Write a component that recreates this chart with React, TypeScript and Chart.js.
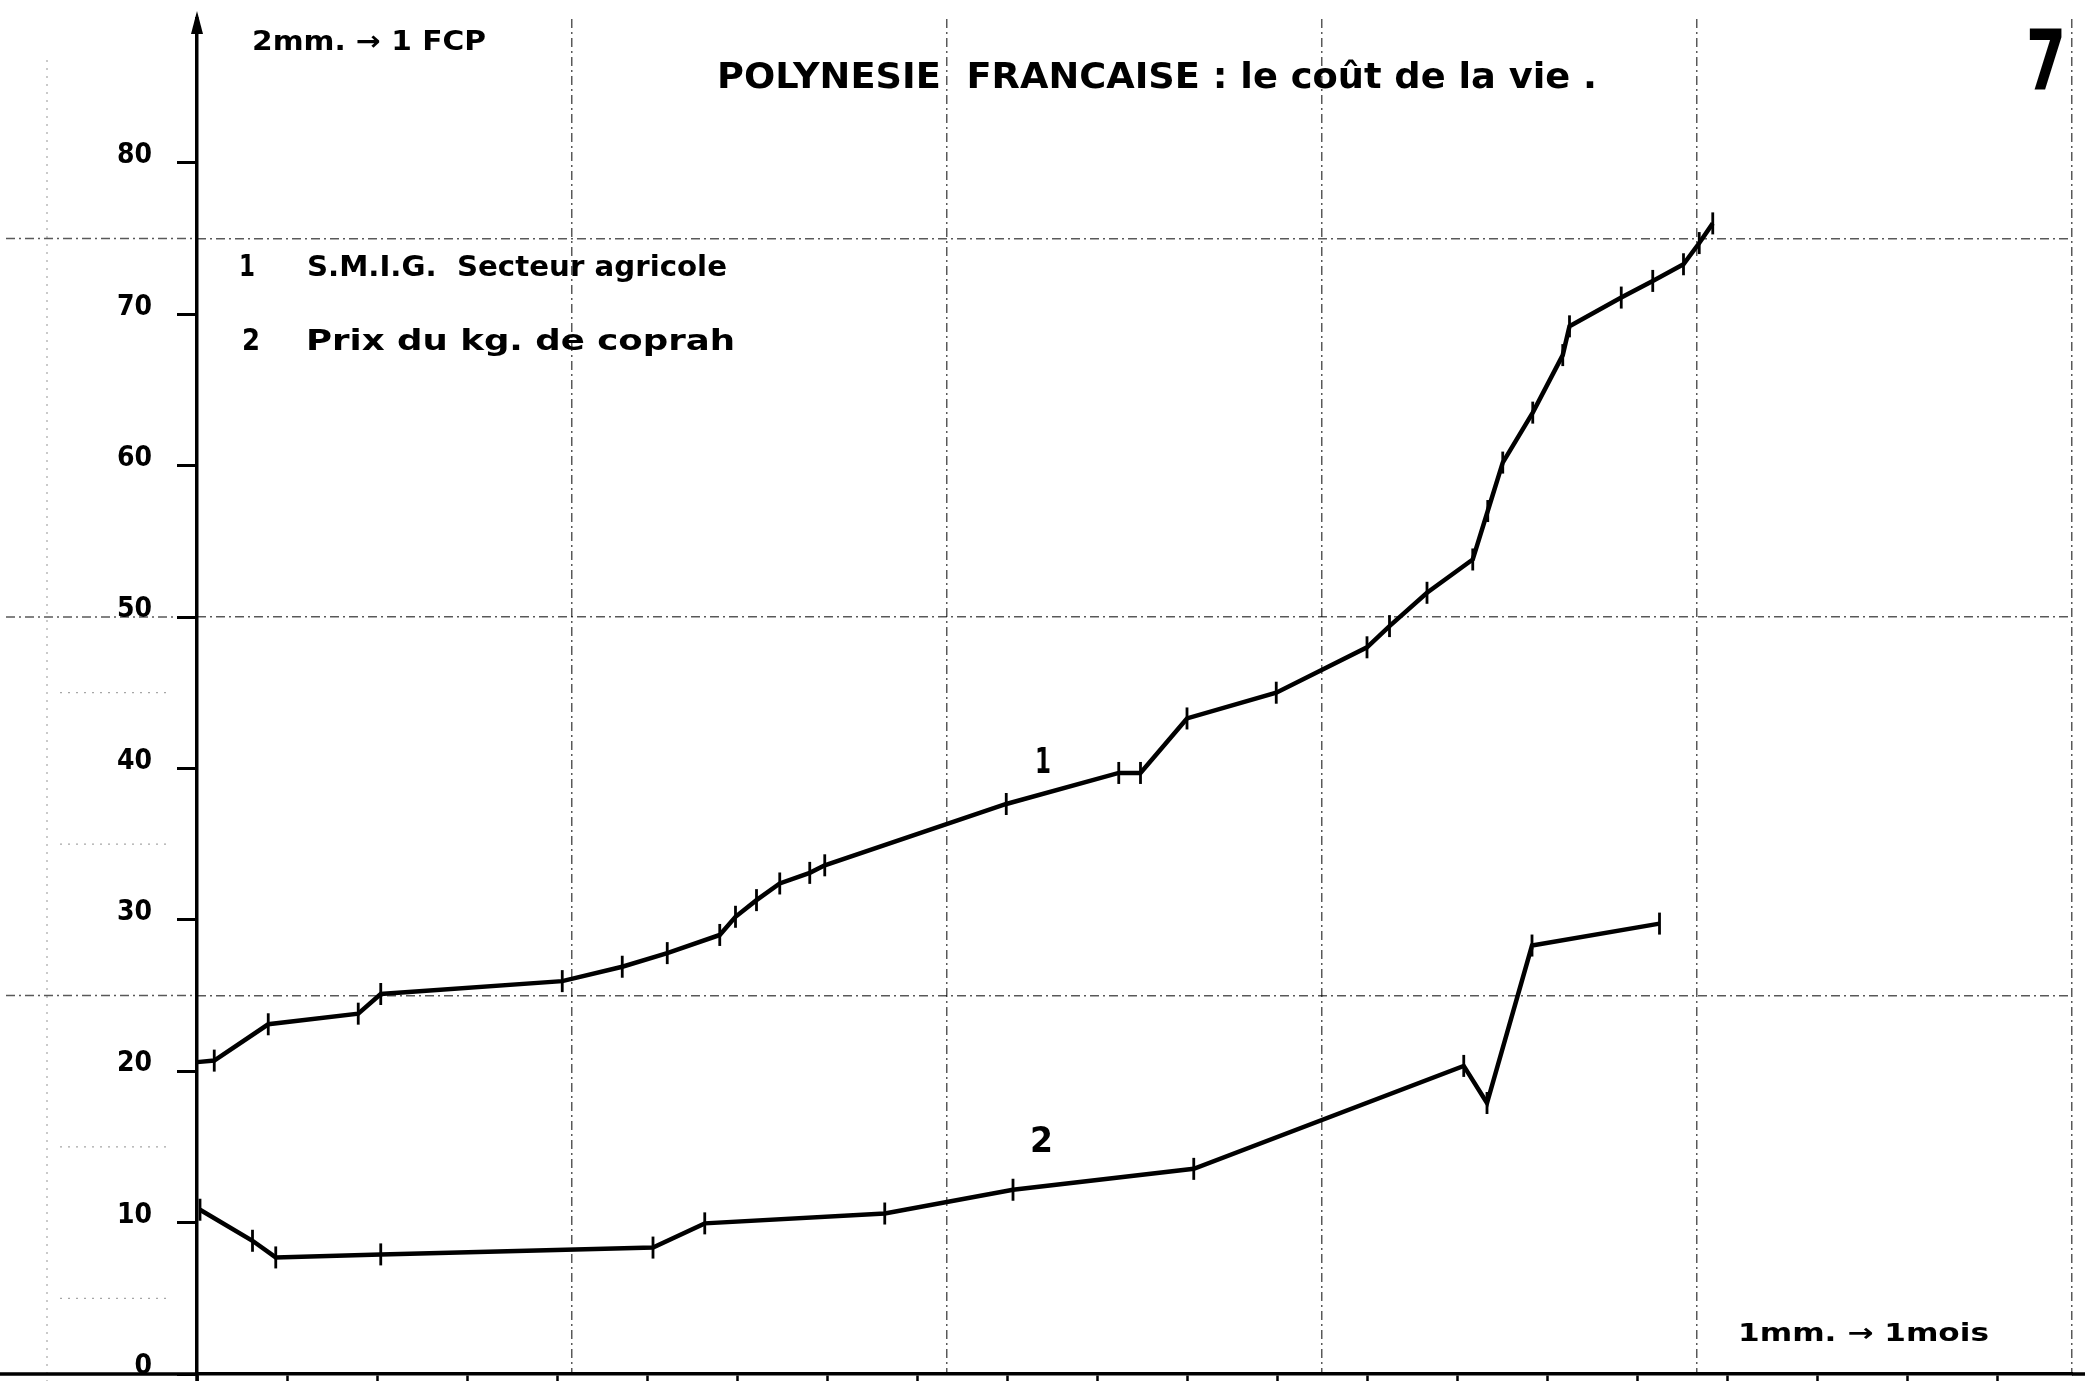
import React, { useEffect, useRef } from "react";
import { Chart, registerables } from "chart.js";

Chart.register(...registerables);

// x values are months from the origin (1 mm -> 1 mois), y values in FCP (2 mm -> 1 FCP)
const smigMonths = [0, 2.3, 9.5, 21.5, 24.5, 48.7, 56.7, 62.7, 69.7, 71.8, 74.6, 77.7, 81.7, 83.7, 107.9, 122.9, 125.8, 132.0, 143.9, 156.0, 159.0, 164.0, 170.1, 172.1, 174.1, 178.1, 182.1, 183.0, 189.9, 194.1, 198.2, 200.3, 202.1];
const smigValues = [20.6, 20.7, 23.1, 23.8, 25.1, 25.95, 26.9, 27.8, 29.0, 30.2, 31.3, 32.4, 33.1, 33.6, 37.65, 39.7, 39.7, 43.3, 45.0, 48.0, 49.4, 51.6, 53.8, 57.0, 60.2, 63.5, 67.3, 69.2, 71.1, 72.2, 73.3, 74.7, 76.0];

const coprahMonths = [0.4, 7.4, 10.5, 24.5, 60.8, 67.7, 91.7, 108.8, 132.9, 168.9, 172.0, 178.0, 195.0];
const coprahValues = [10.85, 8.8, 7.7, 7.9, 8.35, 9.95, 10.6, 12.17, 13.55, 20.35, 17.9, 28.3, 29.75];

const yTickStep = 10;
const xTickStep = 12; // one tick per year
const gridStep = 50; // graph paper: every 5 cm
const yGridStep = 25;
const yGridValues = [25, 50, 75];
const faintPaperValues = [5, 15, 35, 45];

const titleText = "POLYNESIE  FRANCAISE : le coût de la vie .";
const yScaleNote = "2mm. → 1 FCP";
const xScaleNote = "1mm. → 1mois";
const plateNumber = "7";
const legendItems = [
  { num: "1", label: "S.M.I.G.  Secteur agricole" },
  { num: "2", label: "Prix du kg. de coprah" },
];
const seriesLabels = ["1", "2"];

const FONT = "'DejaVu Sans', 'Liberation Sans', sans-serif";
const TICK_FONT = "'DejaVu Sans Condensed', 'DejaVu Sans', sans-serif";

function drawFit(ctx: CanvasRenderingContext2D, text: string, x: number, baseline: number, width: number, size: number) {
  ctx.save();
  ctx.font = `bold ${size}px ${FONT}`;
  ctx.textBaseline = "alphabetic";
  ctx.textAlign = "left";
  ctx.fillStyle = "#000";
  const w = ctx.measureText(text).width;
  ctx.translate(x, baseline);
  ctx.scale(width / w, 1);
  ctx.fillText(text, 0, 0);
  ctx.restore();
}

const noPad = (s: any) => {
  s.paddingTop = 0;
  s.paddingBottom = 0;
  s.paddingLeft = 0;
  s.paddingRight = 0;
};

const extrasPlugin = {
  id: "extras",
  beforeDatasetsDraw(chart: any) {
    const ctx: CanvasRenderingContext2D = chart.ctx;
    const yS = chart.scales.y;
    const left = chart.chartArea.left;
    ctx.save();
    // faint graph-paper remnants in the left margin
    ctx.lineWidth = 1.2;
    ctx.strokeStyle = "rgba(0,0,0,0.35)";
    ctx.setLineDash([2, 6]);
    faintPaperValues.forEach((v) => {
      const py = yS.getPixelForValue(v);
      ctx.beginPath();
      ctx.moveTo(60, py);
      ctx.lineTo(left - 25, py);
      ctx.stroke();
    });
    ctx.beginPath();
    ctx.moveTo(47, 60);
    ctx.lineTo(47, chart.height);
    ctx.stroke();
    ctx.restore();
  },
  afterDraw(chart: any) {
    const ctx: CanvasRenderingContext2D = chart.ctx;
    const { chartArea } = chart;
    const yS = chart.scales.y;
    const left = chartArea.left;
    const bottom = chartArea.bottom;
    ctx.save();
    ctx.strokeStyle = "#000";
    ctx.fillStyle = "#000";
    // y axis continuation & arrow
    ctx.lineWidth = 3.5;
    ctx.beginPath();
    ctx.moveTo(left, chartArea.top);
    ctx.lineTo(left, 26);
    ctx.moveTo(left, bottom);
    ctx.lineTo(left, chart.height);
    ctx.stroke();
    ctx.beginPath();
    ctx.moveTo(left, 11);
    ctx.lineTo(left - 6, 34);
    ctx.lineTo(left + 6, 34);
    ctx.closePath();
    ctx.fill();
    // x axis continuation to both edges
    ctx.beginPath();
    ctx.moveTo(0, bottom);
    ctx.lineTo(left, bottom);
    ctx.moveTo(chartArea.right, bottom);
    ctx.lineTo(chart.width, bottom);
    ctx.stroke();
    // graph paper lines extending into the left margin
    ctx.lineWidth = 1.5;
    ctx.strokeStyle = "rgba(0,0,0,0.65)";
    ctx.setLineDash([9, 4, 2, 4]);
    yGridValues.forEach((v) => {
      const py = yS.getPixelForValue(v);
      ctx.beginPath();
      ctx.moveTo(6, py);
      ctx.lineTo(left, py);
      ctx.stroke();
    });
    ctx.setLineDash([]);
    ctx.restore();

    // texts
    drawFit(ctx, yScaleNote, 252, 50, 234, 27);
    drawFit(ctx, titleText, 717, 88, 880, 36);
    drawFit(ctx, plateNumber, 2026, 90, 40, 84);
    drawFit(ctx, legendItems[0].num, 239, 276, 16, 30);
    drawFit(ctx, legendItems[0].label, 307, 276, 420, 29);
    drawFit(ctx, legendItems[1].num, 242, 350, 18, 30);
    drawFit(ctx, legendItems[1].label, 306, 350, 429, 29);
    drawFit(ctx, seriesLabels[0], 1035, 773, 16, 36);
    drawFit(ctx, seriesLabels[1], 1030, 1152, 23, 36);
    drawFit(ctx, xScaleNote, 1738, 1341, 251, 25);
  },
};

export default function App() {
  const ref = useRef<HTMLCanvasElement>(null);
  useEffect(() => {
    const canvas = ref.current;
    if (!canvas) return;
    const lineDs = (months: number[], values: number[], hideFirst: boolean) => ({
      data: months.map((m, i) => ({ x: m, y: values[i] })),
      borderColor: "#000",
      borderWidth: 4.5,
      pointStyle: "line" as const,
      rotation: 90,
      pointRadius: (c: any) => (hideFirst && c.dataIndex === 0 ? 0 : 11),
      pointBorderWidth: 2.8,
      pointBorderColor: "#000",
      pointBackgroundColor: "#000",
      tension: 0,
      fill: false,
      clip: false as const,
      xAxisID: "x",
      yAxisID: "y",
    });
    const gridColor = (c: any) => (c.tick && c.tick.value === 0 ? "rgba(0,0,0,0)" : "rgba(0,0,0,0.65)");
    const chart = new Chart(canvas, {
      type: "line",
      data: {
        datasets: [
          lineDs(smigMonths, smigValues, true),
          lineDs(coprahMonths, coprahValues, false),
        ],
      },
      plugins: [extrasPlugin],
      options: {
        animation: false,
        responsive: true,
        maintainAspectRatio: false,
        layout: { autoPadding: false, padding: { top: 19, right: 13, bottom: 0, left: 0 } },
        plugins: { legend: { display: false }, tooltip: { enabled: false }, title: { display: false } },
        scales: {
          xg: {
            type: "linear",
            min: 0,
            max: 250,
            position: "bottom",
            afterFit: (s: any) => { s.height = 0; noPad(s); },
            border: { display: false, dash: [9, 4, 2, 4] },
            grid: { drawOnChartArea: true, drawTicks: false, color: gridColor, lineWidth: 1.5 },
            ticks: { display: false, stepSize: gridStep, includeBounds: false, autoSkip: false },
          },
          yg: {
            type: "linear",
            min: 0,
            max: 89.5,
            position: "left",
            afterFit: (s: any) => { s.width = 0; noPad(s); },
            border: { display: false, dash: [9, 4, 2, 4] },
            grid: { drawOnChartArea: true, drawTicks: false, color: gridColor, lineWidth: 1.5 },
            ticks: { display: false, stepSize: yGridStep, includeBounds: false, autoSkip: false },
          },
          x: {
            type: "linear",
            min: 0,
            max: 250,
            position: "bottom",
            afterFit: (s: any) => { s.height = 7; noPad(s); },
            border: { display: true, color: "#000", width: 3.5 },
            grid: { drawOnChartArea: false, drawTicks: true, tickLength: 8, tickColor: "#000", tickWidth: 2.5, color: "#000" },
            ticks: { stepSize: xTickStep, includeBounds: false, autoSkip: false, callback: () => "" },
          },
          y: {
            type: "linear",
            min: 0,
            max: 89.5,
            position: "left",
            afterFit: (s: any) => { s.width = 197; noPad(s); },
            border: { display: true, color: "#000", width: 3.5 },
            grid: { drawOnChartArea: false, drawTicks: true, tickLength: 20, tickColor: "#000", tickWidth: 3, color: "#000" },
            ticks: {
              stepSize: yTickStep,
              includeBounds: false,
              autoSkip: false,
              color: "#000",
              padding: 25,
              labelOffset: -7,
              font: { family: TICK_FONT, weight: "bold", size: 28 },
            },
          },
        },
      },
    } as any);
    return () => chart.destroy();
  }, []);
  return (
    <div style={{ position: "fixed", left: 0, top: 0, width: 2085, height: 1381, background: "#fff" }}>
      <canvas ref={ref} />
    </div>
  );
}
